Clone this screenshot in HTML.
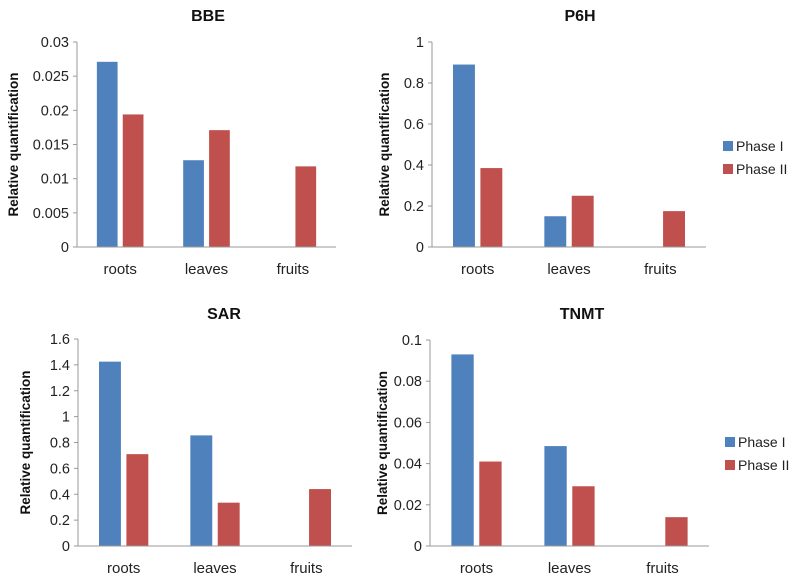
<!DOCTYPE html>
<html><head><meta charset="utf-8"><style>
body{margin:0;background:#fff}
svg{display:block;font-family:"Liberation Sans",sans-serif}
</style></head><body>
<svg id="c" width="792" height="577" viewBox="0 0 792 577"></svg>
<script>
const categories = ["roots","leaves","fruits"];
const seriesNames = ["Phase I","Phase II"];
const bbePhase1 = [0.0271, 0.0127, 0];
const bbePhase2 = [0.0194, 0.0171, 0.0118];
const bbeTicks = ["0","0.005","0.01","0.015","0.02","0.025","0.03"];
const p6hPhase1 = [0.89, 0.15, 0];
const p6hPhase2 = [0.385, 0.25, 0.175];
const p6hTicks = ["0","0.2","0.4","0.6","0.8","1"];
const sarPhase1 = [1.425, 0.855, 0];
const sarPhase2 = [0.71, 0.335, 0.44];
const sarTicks = ["0","0.2","0.4","0.6","0.8","1","1.2","1.4","1.6"];
const tnmtPhase1 = [0.093, 0.0485, 0];
const tnmtPhase2 = [0.041, 0.029, 0.014];
const tnmtTicks = ["0","0.02","0.04","0.06","0.08","0.1"];

const NS="http://www.w3.org/2000/svg";
const svg=document.getElementById('c');
const colors=["#4f81bd","#c0504d"];
function mk(tag,attrs,parent,text){const e=document.createElementNS(NS,tag);for(const k in attrs)e.setAttribute(k,attrs[k]);if(text!==undefined)e.textContent=text;(parent||svg).appendChild(e);return e;}

function panel(key,title,s1,s2,ticks,L,T,B,R,titleX,titleY,ylabX,legend){
  const g=mk('g',{});
  
  
  const maxV=parseFloat(ticks[ticks.length-1]);
  const y=v=>B-(v/maxV)*(B-T);
  const cw=(R-L)/categories.length;
  const x=i=>L+cw*i;
  const t=mk('text',{x:titleX,y:titleY,'text-anchor':'middle','font-size':16,'font-weight':'bold',fill:'#111'},g,title);
  
  
  const yl=mk('text',{x:0,y:0,transform:`translate(${ylabX},${(T+B)/2}) rotate(-90)`,'text-anchor':'middle','font-size':13.5,'font-weight':'bold',fill:'#111'},g,'Relative quantification');
  
  
  ticks.forEach(tk=>{
    const v=parseFloat(tk),yy=y(v);
    mk('line',{x1:L-4,x2:L,y1:yy,y2:yy,stroke:'#999'},g);
    const tl=mk('text',{x:L-8,y:yy+5,'text-anchor':'end','font-size':14.5,fill:'#222'},g,tk);
    
    
  });
  const bw=cw*0.24,gap=cw*0.06;
  [s1,s2].forEach((s,si)=>{
    s.forEach((v,i)=>{
      const cx=x(i)+cw/2;
      const bx=si===0?cx-gap/2-bw:cx+gap/2;
      const r=mk('rect',{x:bx,y:y(v),width:bw,height:B-y(v),fill:colors[si]},g);
      
      
    });
  });
  mk('line',{x1:L,x2:L,y1:T,y2:B,stroke:'#999'},g);
  mk('line',{x1:L,x2:R,y1:B,y2:B,stroke:'#999'},g);
  categories.forEach((c,i)=>{
    const cl=mk('text',{x:x(i)+cw/2,y:B+27,'text-anchor':'middle','font-size':15,fill:'#222'},g,c);
    
    
  });
  if(legend){
    seriesNames.forEach((n,i)=>{
      const ly=legend[1]+i*23;
      const sq=mk('rect',{x:legend[0],y:ly-5,width:10,height:10,fill:colors[i]},g);
      
      
      const lt=mk('text',{x:legend[0]+13,y:ly+5,'font-size':14,fill:'#222'},g,n);
      
      
    });
  }
}
panel('bbe','BBE',bbePhase1,bbePhase2,bbeTicks,77,42,247,336,208,21,18,null);
panel('p6h','P6H',p6hPhase1,p6hPhase2,p6hTicks,432,42,247,706,580,21,389,[723,146]);
panel('sar','SAR',sarPhase1,sarPhase2,sarTicks,78,339,546,352,224,319,30,null);
panel('tnmt','TNMT',tnmtPhase1,tnmtPhase2,tnmtTicks,430,340,546,709,582,319,387,[725,442]);
</script>
</body></html>
